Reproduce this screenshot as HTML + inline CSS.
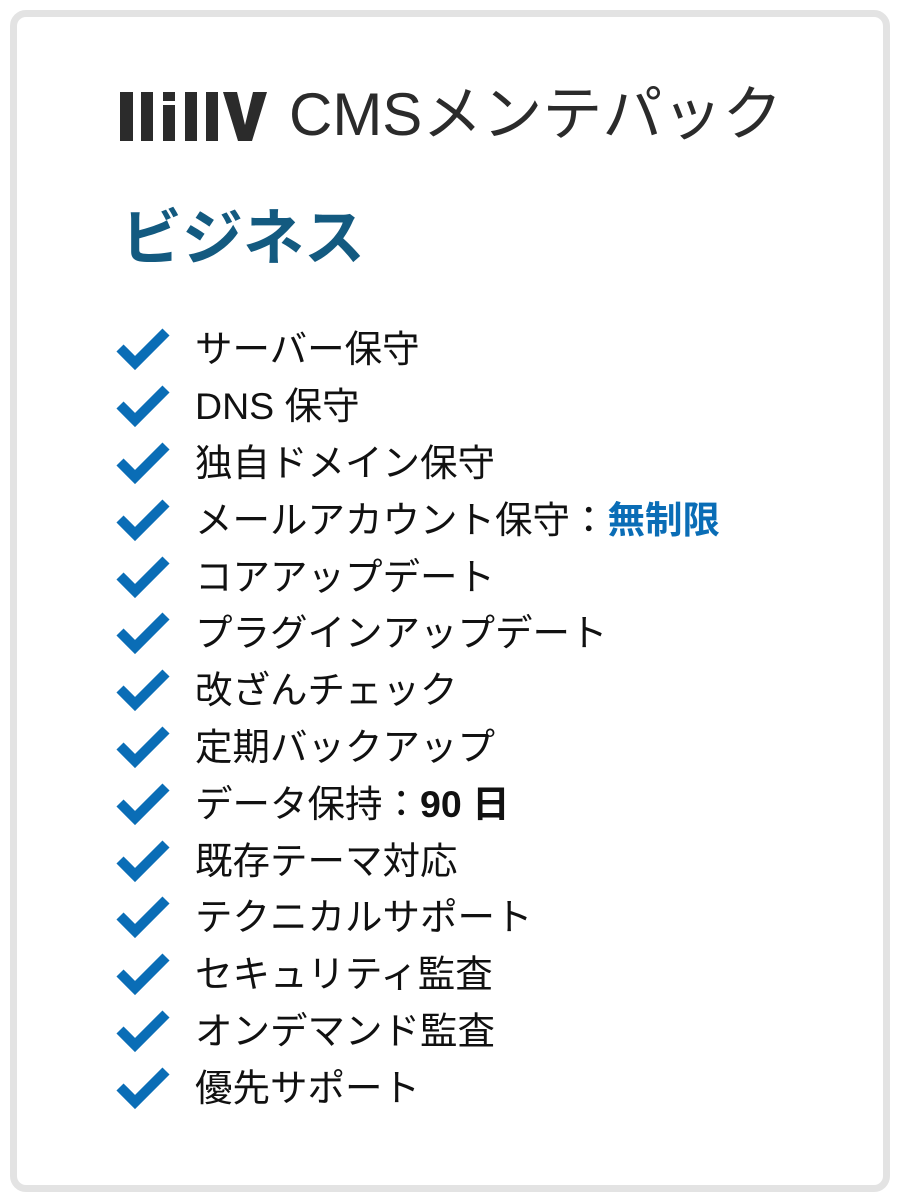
<!DOCTYPE html>
<html><head><meta charset="utf-8"><style>
html,body{margin:0;padding:0;background:#fff;}
body{width:900px;height:1200px;position:relative;overflow:hidden;font-family:"Liberation Sans","Noto Sans CJK JP",sans-serif;}
.frame{position:absolute;left:10px;top:10px;width:866px;height:1168px;border:7px solid #e3e3e3;border-radius:16px;}
.title{position:absolute;left:289px;top:82px;font-size:60px;color:#2b2b2b;line-height:66px;white-space:nowrap;}
.biz{position:absolute;left:121px;top:202px;font-size:61px;font-weight:bold;color:#135a80;line-height:72px;white-space:nowrap;}
.row{position:absolute;left:0;width:900px;height:57px;}
.row svg{position:absolute;left:116px;top:-20px;}
.row span{position:absolute;left:195px;top:-23px;font-size:37.5px;line-height:50px;color:#111;white-space:nowrap;}
b.blue{color:#0a6db6;}
</style></head><body>
<div class="frame"></div>
<svg style="position:absolute;left:0;top:0" width="300" height="160">
<g fill="#2b2b2b">
<rect x="120" y="92" width="13" height="49"/>
<rect x="141" y="92" width="12" height="49"/>
<rect x="163" y="92" width="12" height="9"/>
<rect x="163" y="105" width="12" height="36"/>
<rect x="185" y="92" width="12" height="49"/>
<rect x="206" y="92" width="12" height="49"/>
<polygon points="223,92 237,92 245,125 253,92 267,92 252,141 238,141"/>
</g></svg>
<div class="title">CMSメンテパック</div>
<div class="biz">ビジネス</div>
<div class="row" style="top:347px"><svg width="56" height="44"><polyline points="4,21 19,36 50,5" fill="none" stroke="#0a6db6" stroke-width="10"/></svg><span>サーバー保守</span></div>
<div class="row" style="top:404px"><svg width="56" height="44"><polyline points="4,21 19,36 50,5" fill="none" stroke="#0a6db6" stroke-width="10"/></svg><span>DNS 保守</span></div>
<div class="row" style="top:461px"><svg width="56" height="44"><polyline points="4,21 19,36 50,5" fill="none" stroke="#0a6db6" stroke-width="10"/></svg><span>独自ドメイン保守</span></div>
<div class="row" style="top:518px"><svg width="56" height="44"><polyline points="4,21 19,36 50,5" fill="none" stroke="#0a6db6" stroke-width="10"/></svg><span>メールアカウント保守：<b class="blue">無制限</b></span></div>
<div class="row" style="top:575px"><svg width="56" height="44"><polyline points="4,21 19,36 50,5" fill="none" stroke="#0a6db6" stroke-width="10"/></svg><span>コアアップデート</span></div>
<div class="row" style="top:631px"><svg width="56" height="44"><polyline points="4,21 19,36 50,5" fill="none" stroke="#0a6db6" stroke-width="10"/></svg><span>プラグインアップデート</span></div>
<div class="row" style="top:688px"><svg width="56" height="44"><polyline points="4,21 19,36 50,5" fill="none" stroke="#0a6db6" stroke-width="10"/></svg><span>改ざんチェック</span></div>
<div class="row" style="top:745px"><svg width="56" height="44"><polyline points="4,21 19,36 50,5" fill="none" stroke="#0a6db6" stroke-width="10"/></svg><span>定期バックアップ</span></div>
<div class="row" style="top:802px"><svg width="56" height="44"><polyline points="4,21 19,36 50,5" fill="none" stroke="#0a6db6" stroke-width="10"/></svg><span>データ保持：<b>90 日</b></span></div>
<div class="row" style="top:859px"><svg width="56" height="44"><polyline points="4,21 19,36 50,5" fill="none" stroke="#0a6db6" stroke-width="10"/></svg><span>既存テーマ対応</span></div>
<div class="row" style="top:915px"><svg width="56" height="44"><polyline points="4,21 19,36 50,5" fill="none" stroke="#0a6db6" stroke-width="10"/></svg><span>テクニカルサポート</span></div>
<div class="row" style="top:972px"><svg width="56" height="44"><polyline points="4,21 19,36 50,5" fill="none" stroke="#0a6db6" stroke-width="10"/></svg><span>セキュリティ監査</span></div>
<div class="row" style="top:1029px"><svg width="56" height="44"><polyline points="4,21 19,36 50,5" fill="none" stroke="#0a6db6" stroke-width="10"/></svg><span>オンデマンド監査</span></div>
<div class="row" style="top:1086px"><svg width="56" height="44"><polyline points="4,21 19,36 50,5" fill="none" stroke="#0a6db6" stroke-width="10"/></svg><span>優先サポート</span></div>
</body></html>
